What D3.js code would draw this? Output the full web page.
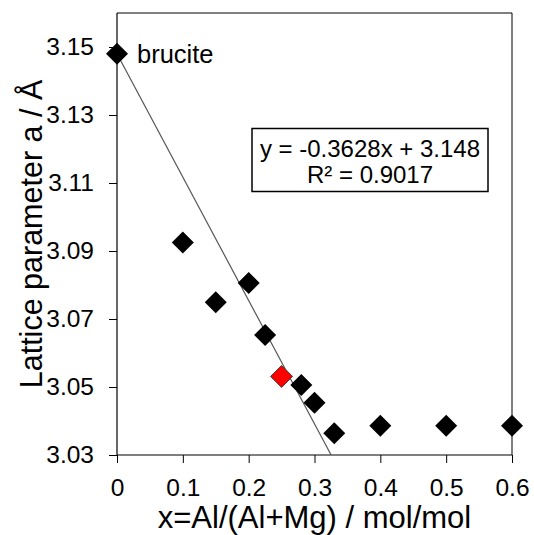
<!DOCTYPE html>
<html><head><meta charset="utf-8">
<script src="https://cdn.jsdelivr.net/npm/d3@7"></script>
<style>body{margin:0;background:#fff}svg{display:block}text{font-family:"Liberation Sans",Arial,sans-serif;fill:#000}</style>
</head><body>
<script>
const xValues = [0, 0.1, 0.15, 0.2, 0.225, 0.25, 0.28, 0.3, 0.33, 0.4, 0.5, 0.6];
const yValues = [3.148, 3.0925, 3.0749, 3.0806, 3.0653, 3.0531, 3.0506, 3.0454, 3.0364, 3.0386, 3.0386, 3.0386];
const highlighted = [false, false, false, false, false, true, false, false, false, false, false, false];
const xTicks = [0, 0.1, 0.2, 0.3, 0.4, 0.5, 0.6];
const yTicks = [3.03, 3.05, 3.07, 3.09, 3.11, 3.13, 3.15];
const slope = -0.3628, intercept = 3.148;
const eqLines = ["y = -0.3628x + 3.148", "R² = 0.9017"];
const pointLabel = "brucite";

const W = 534, H = 535;
const m = {left:117, right:512, top:13, bottom:455};
const svg = d3.select("body").append("svg").attr("width", W).attr("height", H);
const x = d3.scaleLinear().domain([0, 0.6]).range([m.left, m.right]);
const y = d3.scaleLinear().domain([3.03, 3.16]).range([m.bottom, m.top]);

// frame top & right
svg.append("path").attr("d", `M${m.left},${m.top}H${m.right}V${m.bottom}`)
  .attr("fill","none").attr("stroke","#000").attr("stroke-width",1);

const xa = svg.append("g").attr("transform",`translate(0,${m.bottom})`)
  .call(d3.axisBottom(x).tickValues(xTicks).tickSize(8).tickPadding(16).tickFormat(d3.format("")));
const ya = svg.append("g").attr("transform",`translate(${m.left},0)`)
  .call(d3.axisLeft(y).tickValues(yTicks).tickSize(8).tickPadding(15).tickFormat(d3.format(".2f")));
[xa, ya].forEach(a => {
  a.select(".domain").attr("stroke","#000").attr("stroke-width",1.2);
  a.selectAll(".tick line").attr("stroke","#000");
  a.selectAll(".tick text").style("font-family",'"Liberation Sans",Arial,sans-serif').style("font-size","24.5px").attr("fill","#000");
});
ya.select(".domain").attr("d", `M-0,${m.bottom}V${m.top}`);
xa.select(".domain").attr("d", `M${m.left},0H${m.right}`);

// trend line
const xEnd = (3.03 - intercept) / slope;
svg.append("line").attr("x1", x(0)).attr("y1", y(intercept))
  .attr("x2", x(xEnd)).attr("y2", y(slope*xEnd+intercept))
  .attr("stroke","#555").attr("stroke-width",1.2);

// points
const r = 11;
const diamond = `M0,${-r}L${r},0L0,${r}L${-r},0Z`;
svg.append("g").selectAll("path").data(xValues.map((v,i)=>({x:v,y:yValues[i],h:highlighted[i]})))
  .join("path").attr("d", diamond)
  .attr("transform", d=>`translate(${x(d.x)},${y(d.y)})`)
  .attr("fill", d=>d.h ? "#ff0000" : "#000")
  .attr("stroke", d=>d.h ? "#404040" : "none").attr("stroke-width",1);

svg.append("text").attr("x", 137).attr("y", 63).style("font-size","25.5px").text(pointLabel);

// equation box
svg.append("rect").attr("x",252).attr("y",128.5).attr("width",236).attr("height",63)
  .attr("fill","#fff").attr("stroke","#000").attr("stroke-width",1.5);
svg.append("text").attr("x",370).attr("y",157).attr("text-anchor","middle").style("font-size","24px").text(eqLines[0]);
svg.append("text").attr("x",370).attr("y",183).attr("text-anchor","middle").style("font-size","24px").text(eqLines[1]);

// axis titles
svg.append("text").attr("x",(m.left+m.right)/2).attr("y",528).attr("text-anchor","middle")
  .style("font-size","31px").text("x=Al/(Al+Mg) / mol/mol");
svg.append("text").attr("transform",`translate(42,${(m.top+m.bottom)/2}) rotate(-90)`).attr("text-anchor","middle")
  .style("font-size","30.5px").text("Lattice parameter a / Å");
</script>
</body></html>
